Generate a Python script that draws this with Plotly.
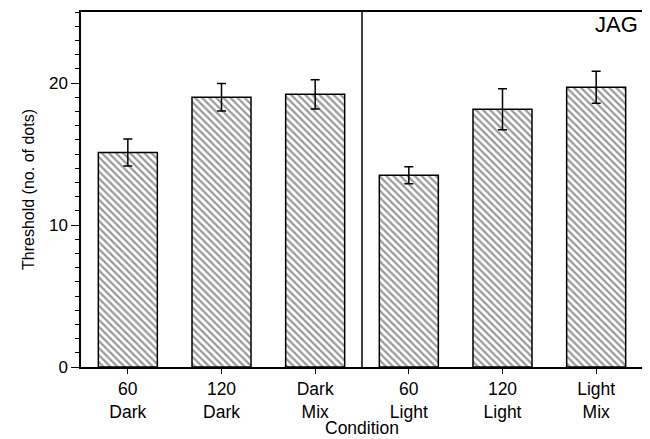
import plotly.graph_objects as go

categories = ["60<br>Dark", "120<br>Dark", "Dark<br>Mix", "60<br>Light", "120<br>Light", "Light<br>Mix"]
thresholds = [15.1, 19.0, 19.2, 13.5, 18.15, 19.7]
errors = [0.95, 0.97, 1.03, 0.6, 1.45, 1.12]
ytick_vals = [0, 10, 20]
panel_label = "JAG"
x_title = "Condition"
y_title = "Threshold (no. of dots)"

FONT = "Liberation Sans, Arial, sans-serif"

fig = go.Figure()
fig.add_trace(go.Bar(
    x=categories,
    y=thresholds,
    width=0.63,
    marker=dict(
        color="white",
        line=dict(color="black", width=1.5),
        pattern=dict(shape="\\", size=5, solidity=0.45, fgcolor="#333333", bgcolor="white"),
    ),
    error_y=dict(type="data", array=errors, visible=True, color="black", thickness=1.5, width=4.5),
    showlegend=False,
))

fig.add_shape(type="line", xref="x", yref="paper", x0=2.5, x1=2.5, y0=0, y1=1,
              line=dict(color="black", width=1.5))

fig.add_annotation(text=panel_label, xref="paper", yref="paper", x=0.995, y=1.0,
                   xanchor="right", yanchor="top", showarrow=False, yshift=2,
                   font=dict(family=FONT, size=22, color="black"))

fig.add_annotation(text=x_title, xref="paper", yref="paper", x=0.5, y=-0.172,
                   xanchor="center", yanchor="middle", showarrow=False,
                   font=dict(family=FONT, size=17.5, color="black"))

# page body has an 8px margin; size the figure so the plot lands where the reference has it
fig.update_layout(
    width=642, height=431,
    margin=dict(l=73, r=7, t=4, b=72),
    paper_bgcolor="white", plot_bgcolor="white",
    font=dict(family=FONT, size=17.5, color="black"),
)
fig.update_xaxes(
    type="category", range=[-0.5, 5.5], automargin=False,
    showline=True, linecolor="black", linewidth=1.5, mirror=True,
    ticks="outside", ticklen=5, tickwidth=1, tickcolor="black",
    showgrid=False,
    tickfont=dict(size=17.5),
)
fig.update_yaxes(
    range=[0, 25], tickvals=ytick_vals, automargin=False,
    showline=True, linecolor="black", linewidth=1.5, mirror=True,
    ticks="outside", ticklen=8, tickwidth=1, tickcolor="black",
    minor=dict(dtick=1, ticks="outside", ticklen=4, tickcolor="black", tickwidth=1, showgrid=False),
    showgrid=False, zeroline=False,
    title=dict(text=y_title, font=dict(size=16), standoff=10),
    tickfont=dict(size=17),
)

fig.write_html("out.html")
